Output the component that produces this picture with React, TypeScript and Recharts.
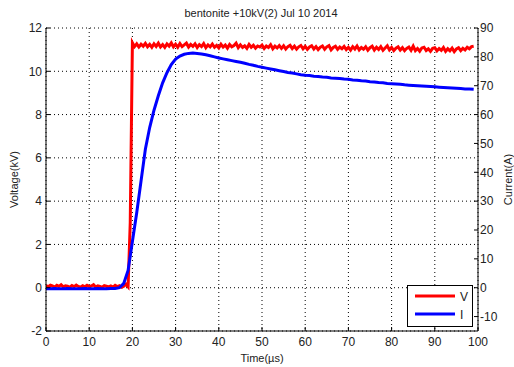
import { CartesianGrid, ComposedChart, Line, XAxis, YAxis } from "recharts";

const TITLE = "bentonite +10kV(2) Jul 10 2014";
const X_TICKS = [0, 10, 20, 30, 40, 50, 60, 70, 80, 90, 100];
const V_TICKS = [-2, 0, 2, 4, 6, 8, 10, 12];
const I_TICKS = [-10, 0, 10, 20, 30, 40, 50, 60, 70, 80, 90];

// voltage (kV), sampled every 0.5 µs from t = 0
const V_STEP = 0.5;
const voltage = [
  0.1, 0.05, 0.12, 0.08, 0.03, 0.11, 0.06, 0.14, 0.04, 0.09,
  0.07, 0.02, 0.1, 0.05, 0.12, 0.06, 0.03, 0.09, 0.04, 0.11,
  0.05, 0.08, 0.14, 0.03, 0.09, 0.06, 0.02, 0.1, 0.07, 0.04,
  0.08, 0.03, 0.11, 0.05, 0.09, 0.02, 0.07, 0.16,
  0.04, 3.0,
  11.32, 11.14, 11.27, 11.12, 11.25, 11.16, 11.29, 11.13, 11.24, 11.11,
  11.27, 11.15, 11.3, 11.12, 11.23, 11.1, 11.26, 11.16, 11.31, 11.13,
  11.25, 11.11, 11.28, 11.14, 11.22, 11.3, 11.12, 11.24, 11.15, 11.27,
  11.1, 11.23, 11.14, 11.28, 11.09, 11.22, 11.13, 11.26, 11.11, 11.2,
  11.08, 11.25, 11.12, 11.21, 11.07, 11.24, 11.13, 11.19, 11.3, 11.09,
  11.22, 11.1, 11.18, 11.06, 11.24, 11.11, 11.2, 11.07, 11.17, 11.12,
  11.21, 11.05, 11.17, 11.1, 11.23, 11.04, 11.16, 11.08, 11.19, 11.06,
  11.18, 11.03, 11.14, 11.2, 11.05, 11.16, 11.02, 11.13, 11.19, 11.04,
  11.15, 11.01, 11.12, 11.18, 11.03, 11.14, 11.0, 11.11, 11.17, 11.02,
  11.13, 11.19, 10.99, 11.1, 11.16, 11.01, 11.12, 11.04, 11.15, 11.0,
  11.11, 10.98, 11.14, 11.03, 11.17, 10.99, 11.1, 11.02, 11.13, 10.97,
  11.09, 11.16, 10.98, 11.11, 11.01, 11.14, 10.97, 11.08, 11.18, 10.99,
  11.1, 10.96, 11.07, 11.13, 10.98, 11.09, 10.95, 11.06, 11.12, 10.97,
  11.16, 10.95, 11.05, 10.93, 11.08, 11.11, 10.96, 11.04, 10.92, 11.06,
  11.09, 10.94, 11.05, 10.97, 11.1, 10.92, 11.04, 10.95, 11.07, 10.91,
  11.03, 11.09, 10.95, 11.06, 10.99, 11.11, 11.04, 11.14, 11.16,
];

// current (A), sampled every 1 µs from t = 0
const I_STEP = 1;
const current = [
  -0.4, -0.4, -0.3, -0.4, -0.4, -0.3, -0.4, -0.4, -0.4, -0.3,
  -0.4, -0.4, -0.3, -0.4, -0.4, -0.3, -0.3, 0.0, 1.5, 6.0,
  16, 26, 37, 48, 55.5, 61.5, 66.5, 71, 74.5, 77.3,
  79.2, 80.3, 80.9, 81.2, 81.3, 81.2, 81.0, 80.7, 80.4, 80.0,
  79.6, 79.3, 79.0, 78.7, 78.4, 78.1, 77.8, 77.4, 77.1, 76.7,
  76.4, 76.1, 75.8, 75.5, 75.2, 74.9, 74.6, 74.4, 74.1, 73.8,
  73.6, 73.5, 73.3, 73.2, 73.0, 72.9, 72.7, 72.6, 72.5, 72.3,
  72.2, 72.0, 71.9, 71.7, 71.6, 71.4, 71.3, 71.1, 71.0, 70.8,
  70.7, 70.6, 70.5, 70.3, 70.2, 70.1, 70.0, 69.9, 69.8, 69.7,
  69.6, 69.5, 69.4, 69.3, 69.2, 69.1, 69.0, 68.9, 68.9, 68.8,
];

const vData = voltage.map((v, i) => ({ t: i * V_STEP, v }));
const iData = current.map((c, i) => ({ t: i * I_STEP, c }));

const FONT = "'Liberation Sans', Arial, sans-serif";
const INK = "#222";
const tickStyle = { fontSize: 12, fill: INK, fontFamily: FONT };
const labelStyle = { fontSize: 11, fill: INK, fontFamily: FONT, textAnchor: "middle" as const };

export default function App() {
  return (
    <div
      style={{
        position: "absolute",
        left: 0,
        top: 0,
        width: 514,
        height: 367,
        background: "#fff",
        fontFamily: FONT,
      }}
    >
      <div
        style={{
          position: "absolute",
          left: 0,
          width: 522,
          top: 7,
          textAlign: "center",
          fontSize: 11,
          color: INK,
        }}
      >
        {TITLE}
      </div>
      <ComposedChart
        width={514}
        height={367}
        margin={{ top: 28, right: 6, bottom: 4, left: 10 }}
      >
        <CartesianGrid
          xAxisId="x"
          yAxisId="v"
          stroke="#000"
          strokeDasharray="1 3"
        />
        <XAxis
          xAxisId="x"
          type="number"
          dataKey="t"
          domain={[0, 100]}
          ticks={X_TICKS}
          allowDataOverflow
          height={32}
          stroke="#000"
          tickSize={-4}
          tickMargin={10}
          tick={tickStyle}
          label={{
            value: "Time(\u00b5s)",
            position: "insideBottom",
            offset: 1,
            style: labelStyle,
          }}
        />
        <XAxis
          xAxisId="top"
          orientation="top"
          type="number"
          dataKey="t"
          domain={[0, 100]}
          ticks={X_TICKS}
          height={0}
          stroke="#000"
          tickSize={-4}
          tickFormatter={() => ""}
        />
        <YAxis
          yAxisId="v"
          type="number"
          domain={[-2, 12]}
          ticks={V_TICKS}
          width={36}
          stroke="#000"
          tickSize={-4}
          tickMargin={8}
          tick={tickStyle}
          label={{
            value: "Voltage(kV)",
            angle: -90,
            position: "insideLeft",
            offset: 4,
            style: labelStyle,
          }}
        />
        <YAxis
          yAxisId="i"
          orientation="right"
          type="number"
          domain={[-15, 90]}
          ticks={I_TICKS}
          width={30}
          stroke="#000"
          tickSize={-4}
          tickMargin={6}
          tick={{ ...tickStyle, textAnchor: "start" }}
          label={{
            value: "Current(A)",
            angle: -90,
            position: "insideRight",
            offset: 0,
            style: labelStyle,
          }}
        />
        <Line
          xAxisId="x"
          yAxisId="v"
          data={vData}
          dataKey="v"
          type="linear"
          stroke="#ff0000"
          strokeWidth={3}
          dot={false}
          isAnimationActive={false}
        />
        <Line
          xAxisId="x"
          yAxisId="i"
          data={iData}
          dataKey="c"
          type="linear"
          stroke="#0000ff"
          strokeWidth={3}
          dot={false}
          isAnimationActive={false}
        />
      </ComposedChart>
      <div
        style={{
          position: "absolute",
          left: 407,
          top: 285,
          width: 64,
          height: 40,
          border: "1px solid #000",
          background: "#fff",
        }}
      >
        <svg width={64} height={40} style={{ position: "absolute", left: 0, top: 0 }}>
          <line x1={7} x2={47} y1={10} y2={10} stroke="#ff0000" strokeWidth={3} />
          <line x1={7} x2={47} y1={28} y2={28} stroke="#0000ff" strokeWidth={3} />
          <text x={52} y={15} fontSize={12} fill={INK} fontFamily={FONT}>
            V
          </text>
          <text x={52} y={33} fontSize={12} fill={INK} fontFamily={FONT}>
            I
          </text>
        </svg>
      </div>
    </div>
  );
}
